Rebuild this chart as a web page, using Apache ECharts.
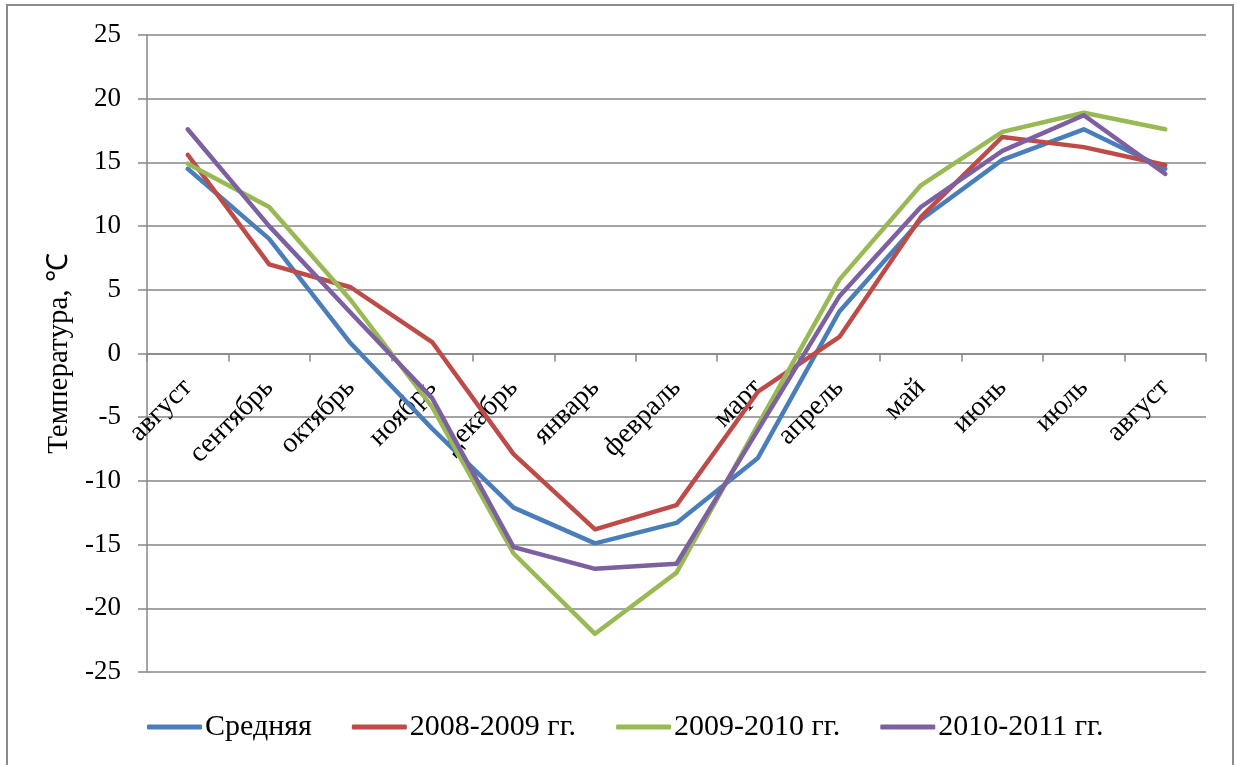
<!DOCTYPE html>
<html>
<head>
<meta charset="utf-8">
<script src="https://cdn.jsdelivr.net/npm/echarts@6/dist/echarts.min.js"></script>
<style>
html,body{margin:0;padding:0;background:#fff;}
#chart{width:1238px;height:765px;}
</style>
</head>
<body>
<div id="chart"></div>
<script>
const categories = ['август','сентябрь','октябрь','ноябрь','декабрь','январь','февраль','март','апрель','май','июнь','июль','август'];
const seriesNames = ['Средняя','2008-2009 гг.','2009-2010 гг.','2010-2011 гг.'];
const avgValues  = [14.5, 9.0, 0.8, -5.9, -12.1, -14.9, -13.3, -8.2, 3.3, 10.5, 15.2, 17.6, 14.5];
const y2008Values = [15.6, 7.0, 5.2, 0.9, -7.9, -13.8, -11.9, -3.0, 1.3, 10.7, 17.0, 16.2, 14.8];
const y2009Values = [14.9, 11.5, 4.2, -4.2, -15.7, -22.0, -17.2, -5.6, 5.8, 13.2, 17.4, 18.9, 17.6];
const y2010Values = [17.6, 10.0, 3.2, -3.5, -15.2, -16.9, -16.5, -6.0, 4.5, 11.5, 15.9, 18.7, 14.1];
const yAxisTitle = 'Температура, ℃';
const yMin = -25, yMax = 25, yStep = 5;

const colors = ['#4A7EBB','#BE4B48','#98B954','#7D60A0'];
const FONT = '"Liberation Serif","Times New Roman",serif';
const gray = '#868686';

const W = 1238, H = 765;
const gridTop = 35, gridBottom = 93;
const gridH = H - gridTop - gridBottom;
// move the category axis (line, ticks, labels) up to the zero line
const zeroOffset = -gridH * (0 - yMin) / (yMax - yMin);

const chart = echarts.init(document.getElementById('chart'));
const allValues = [avgValues, y2008Values, y2009Values, y2010Values];
chart.setOption({
  animation: false,
  backgroundColor: '#fff',
  color: colors,
  graphic: [{
    type: 'rect',
    shape: {x: 7, y: 5, width: 1226, height: 800},
    style: {fill: 'none', stroke: '#8a8a8a', lineWidth: 2},
    silent: true
  }],
  grid: {left: 147, right: 32, top: gridTop, bottom: gridBottom, containLabel: false},
  legend: {
    data: seriesNames,
    left: 147,
    top: 712,
    padding: 0,
    icon: 'roundRect',
    itemWidth: 55,
    itemHeight: 5,
    itemGap: 40,
    textStyle: {fontFamily: FONT, fontSize: 30, color: '#000', padding: [0,0,0,-2]}
  },
  xAxis: {
    type: 'category',
    data: categories,
    boundaryGap: true,
    position: 'bottom',
    offset: zeroOffset,
    axisLine: {onZero: false, lineStyle: {color: gray, width: 1.5}},
    axisTick: {show: true, length: 8, inside: false, lineStyle: {color: gray, width: 1.5}},
    axisLabel: {interval: 0, rotate: 45, margin: 30, fontFamily: FONT, fontSize: 28, color: '#000'},
    splitLine: {show: false}
  },
  yAxis: {
    type: 'value',
    min: yMin, max: yMax, interval: yStep,
    name: yAxisTitle,
    nameLocation: 'middle',
    nameRotate: 90,
    nameGap: 72,
    nameTextStyle: {fontFamily: FONT, fontSize: 29, color: '#000'},
    axisLine: {show: true, lineStyle: {color: gray, width: 1.5}},
    axisTick: {show: true, length: 9, lineStyle: {color: gray, width: 1.5}},
    axisLabel: {margin: 26, fontFamily: FONT, fontSize: 27, color: '#000'},
    splitLine: {show: true, lineStyle: {color: gray, width: 1.5}}
  },
  series: seriesNames.map((n, i) => ({
    name: n,
    type: 'line',
    data: allValues[i],
    symbol: 'none',
    lineStyle: {width: 4.5, color: colors[i], cap: 'round', join: 'round'},
    itemStyle: {color: colors[i]}
  }))
});
</script>
</body>
</html>
